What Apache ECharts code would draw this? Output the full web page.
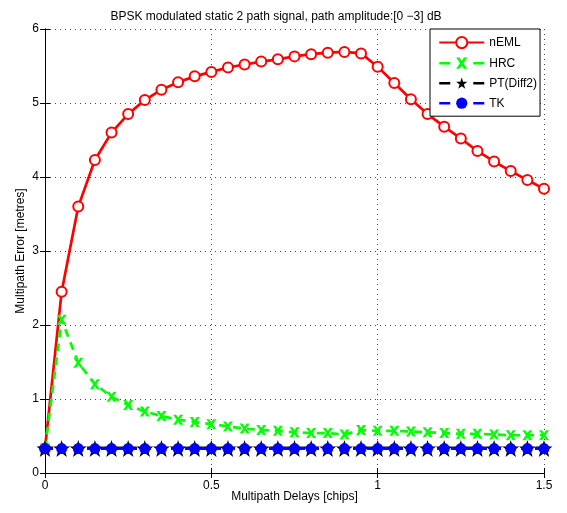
<!DOCTYPE html>
<html>
<head>
<meta charset="utf-8">
<script src="https://cdn.jsdelivr.net/npm/echarts@6/dist/echarts.min.js"></script>
<style>html,body{margin:0;padding:0;background:#fff;}#c{width:567px;height:513px;}</style>
</head>
<body>
<div id="c"></div>
<script>
var delays = [0,0.05,0.1,0.15,0.2,0.25,0.3,0.35,0.4,0.45,0.5,0.55,0.6,0.65,0.7,0.75,0.8,0.85,0.9,0.95,1.0,1.05,1.1,1.15,1.2,1.25,1.3,1.35,1.4,1.45,1.5];
var nEML = [0.33,2.45,3.60,4.23,4.60,4.85,5.04,5.18,5.28,5.36,5.42,5.48,5.52,5.56,5.59,5.63,5.66,5.68,5.69,5.67,5.49,5.27,5.05,4.85,4.68,4.52,4.35,4.21,4.08,3.96,3.84];
var HRC = [0.33,2.07,1.49,1.20,1.03,0.92,0.83,0.77,0.72,0.69,0.66,0.63,0.60,0.58,0.57,0.55,0.54,0.54,0.52,0.58,0.57,0.57,0.56,0.55,0.54,0.53,0.53,0.52,0.51,0.51,0.51];
var PT = [0.33,0.33,0.33,0.33,0.33,0.33,0.33,0.33,0.33,0.33,0.33,0.33,0.33,0.33,0.33,0.33,0.33,0.33,0.33,0.33,0.33,0.33,0.33,0.33,0.33,0.33,0.33,0.33,0.33,0.33,0.33];
var TK = [0.33,0.33,0.33,0.33,0.33,0.33,0.33,0.33,0.33,0.33,0.33,0.33,0.33,0.33,0.33,0.33,0.33,0.33,0.33,0.33,0.33,0.33,0.33,0.33,0.33,0.33,0.33,0.33,0.33,0.33,0.33];
var xTicks = [0, 0.5, 1, 1.5];
var yTicks = [0, 1, 2, 3, 4, 5, 6];

function pairs(v){ return delays.map(function(d,i){ return [d, v[i]]; }); }

var FONT = '"Liberation Sans", Arial, Helvetica, sans-serif';
var xShape = 'path://M0,0 L3,0 L5,3 L7,0 L10,0 L6.5,5 L10,10 L7,10 L5,7 L3,10 L0,10 L3.5,5 Z';
var starShape = 'path://M50,0 L61.8,35.3 L98.9,35.3 L68.9,57.1 L80.3,92.7 L50,70.9 L19.7,92.7 L31.1,57.1 L1.1,35.3 L38.2,35.3 Z';

var chart = echarts.init(document.getElementById('c'), null, {renderer:'canvas'});
var gridLine = {show:true, lineStyle:{color:'#444', type:[1,4], width:1}};
var legDash = {type:[11,23], width:2.5};
chart.setOption({
  animation:false,
  backgroundColor:'#fff',
  title:{text:'BPSK modulated static 2 path signal, path amplitude:[0 \u22123] dB', left:271, top:6, textAlign:'center',
    textStyle:{fontFamily:FONT, fontSize:12, fontWeight:'normal', color:'#000'}},
  grid:{left:45, top:29, right:23, bottom:40, containLabel:false},
  legend:{
    orient:'vertical', left:430, top:29, itemWidth:45, itemHeight:14, itemGap:8,
    padding:[7,3,7,8], borderColor:'#000', borderWidth:1, backgroundColor:'#fff',
    textStyle:{fontFamily:FONT, fontSize:12, color:'#000'},
    data:[
      {name:'nEML'},
      {name:'HRC', lineStyle:legDash},
      {name:'PT(Diff2)', lineStyle:legDash},
      {name:'TK', lineStyle:legDash}
    ]
  },
  xAxis:[{
    type:'value', min:0, max:1.5, interval:0.5,
    name:'Multipath Delays [chips]', nameLocation:'middle', nameGap:18, nameMoveOverlap:false,
    nameTextStyle:{fontFamily:FONT, fontSize:12, color:'#000'},
    axisLine:{show:true, lineStyle:{color:'#000', width:1}},
    axisTick:{show:true, inside:true, length:5, lineStyle:{color:'#000'}},
    axisLabel:{fontFamily:FONT, fontSize:12, color:'#000', margin:7,
      formatter:function(v){ return xTicks.indexOf(v)>=0 ? String(v) : ''; }},
    splitLine:gridLine
  },{
    type:'value', min:0, max:1.5, interval:0.5, position:'top',
    axisLine:{show:true, lineStyle:{color:'#000', width:1}},
    axisTick:{show:true, inside:true, length:5, lineStyle:{color:'#000'}},
    axisLabel:{show:false}, splitLine:{show:false}
  }],
  yAxis:[{
    type:'value', min:0, max:6, interval:1,
    name:'Multipath Error [metres]', nameLocation:'middle', nameGap:18, nameMoveOverlap:false,
    nameTextStyle:{fontFamily:FONT, fontSize:12, color:'#000'},
    axisLine:{show:true, lineStyle:{color:'#000', width:1}},
    axisTick:{show:true, inside:true, length:5, lineStyle:{color:'#000'}},
    axisLabel:{fontFamily:FONT, fontSize:12, color:'#000', margin:6,
      formatter:function(v){ return yTicks.indexOf(v)>=0 ? String(v) : ''; }},
    splitLine:gridLine
  },{
    type:'value', min:0, max:6, interval:1, position:'right',
    axisLine:{show:true, lineStyle:{color:'#000', width:1}},
    axisTick:{show:true, inside:true, length:5, lineStyle:{color:'#000'}},
    axisLabel:{show:false}, splitLine:{show:false}
  }],
  series:[
    {name:'nEML', type:'line', data:pairs(nEML), symbol:'emptyCircle', symbolSize:10,
      lineStyle:{color:'#ff0000', width:2.7}, itemStyle:{color:'#ff0000', borderColor:'#ff0000', borderWidth:2.4}, z:2},
    {name:'HRC', type:'line', data:pairs(HRC), symbol:xShape, symbolSize:10,
      lineStyle:{color:'#00ff00', width:2.7, type:[8,6]}, itemStyle:{color:'#00ff00'}, z:3},
    {name:'PT(Diff2)', type:'line', data:pairs(PT), symbol:starShape, symbolSize:17,
      lineStyle:{color:'#000', width:2.5, type:[8,6]}, itemStyle:{color:'#000'}, z:4},
    {name:'TK', type:'line', data:pairs(TK), symbol:'circle', symbolSize:11,
      lineStyle:{color:'#0000ff', width:2.5, type:[8,6]}, itemStyle:{color:'#0000ff'}, z:5}
  ]
});
</script>
</body>
</html>
